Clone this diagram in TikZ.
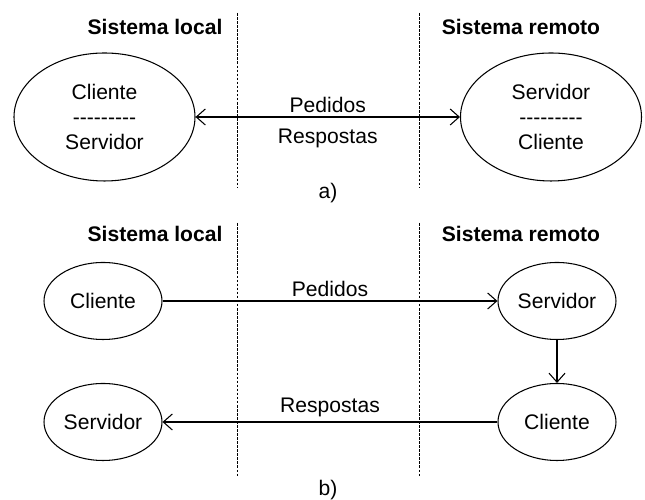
\documentclass[tikz,border=0pt]{standalone}
\usepackage{fontspec}
\setmainfont{Liberation Sans}
\usetikzlibrary{arrows.meta, shapes.geometric}
\newcommand{\tracos}{-{}-{}-{}-{}-{}-{}-{}-{}-}

\begin{document}
\begin{tikzpicture}[line width=0.6pt,
    font=\fontsize{12}{14}\selectfont,
    grande/.style={draw, ellipse, minimum width=3.62cm, minimum height=2.56cm, align=center, inner sep=0pt},
    pequeno/.style={draw, ellipse, minimum width=2.36cm, minimum height=1.54cm, inner sep=0pt},
    titulo/.style={draw=none, font=\fontsize{12}{14}\selectfont\bfseries},
    divisa/.style={dash pattern=on 1.5pt off 0.8pt, line width=0.4pt},
    seta/.style={-{Straight Barb[length=1.8mm, width=3.2mm]}},
    dupla/.style={{Straight Barb[length=1.8mm, width=3.2mm]}-{Straight Barb[length=1.8mm, width=3.2mm]}}]
    \useasboundingbox (0,0) rectangle (12.9,10);

    % Parte a): titulos e divisorias
    \node[titulo] (la) at (3.10,9.46) {Sistema local};
    \node[titulo] (ra) at (10.42,9.46) {Sistema remoto};
    \coordinate (d1t) at (4.74,9.74);
    \coordinate (d1b) at (4.74,6.24);
    \coordinate (d2t) at (8.38,9.74);
    \coordinate (d2b) at (8.38,6.24);
    \draw[divisa] (d1t) -- (d1b);
    \draw[divisa] (d2t) -- (d2b);

    % Elipses com os dois papeis
    \node[grande] (cs) at (2.09,7.66) {Cliente\\\tracos\\Servidor};
    \node[grande] (sc) at (11.02,7.66) {Servidor\\\tracos\\Cliente};

    % Seta dupla entre os sistemas
    \draw[dupla] (cs.east) -- (sc.west)
        node[midway, above, yshift=-1pt] {Pedidos}
        node[midway, below, yshift=-3pt] {Respostas};
    \node[draw = none] (a) at (6.56,6.14) {a)};

    % Parte b): titulos e divisorias
    \node[titulo] (lb) at (3.10,5.32) {Sistema local};
    \node[titulo] (rb) at (10.42,5.32) {Sistema remoto};
    \coordinate (d3t) at (4.74,5.54);
    \coordinate (d3b) at (4.74,0.48);
    \coordinate (d4t) at (8.38,5.54);
    \coordinate (d4b) at (8.38,0.46);
    \draw[divisa] (d3t) -- (d3b);
    \draw[divisa] (d4t) -- (d4b);

    % Nos separados
    \node[pequeno] (cli) at (2.06,3.98) {Cliente};
    \node[pequeno] (serv) at (2.06,1.56) {Servidor};
    \node[pequeno] (rserv) at (11.14,3.98) {Servidor};
    \node[pequeno] (rcli) at (11.14,1.56) {Cliente};

    % Setas de pedidos e respostas
    \draw[seta] (cli.east) -- (rserv.west) node[midway, above, yshift=-1pt] {Pedidos};
    \draw[seta] (rserv.south) -- (rcli.north);
    \draw[seta] (rcli.west) -- (serv.east) node[midway, above, yshift=-1pt] {Respostas};
    \node[draw = none] (b) at (6.56,0.2) {b)};
\end{tikzpicture}
\end{document}
